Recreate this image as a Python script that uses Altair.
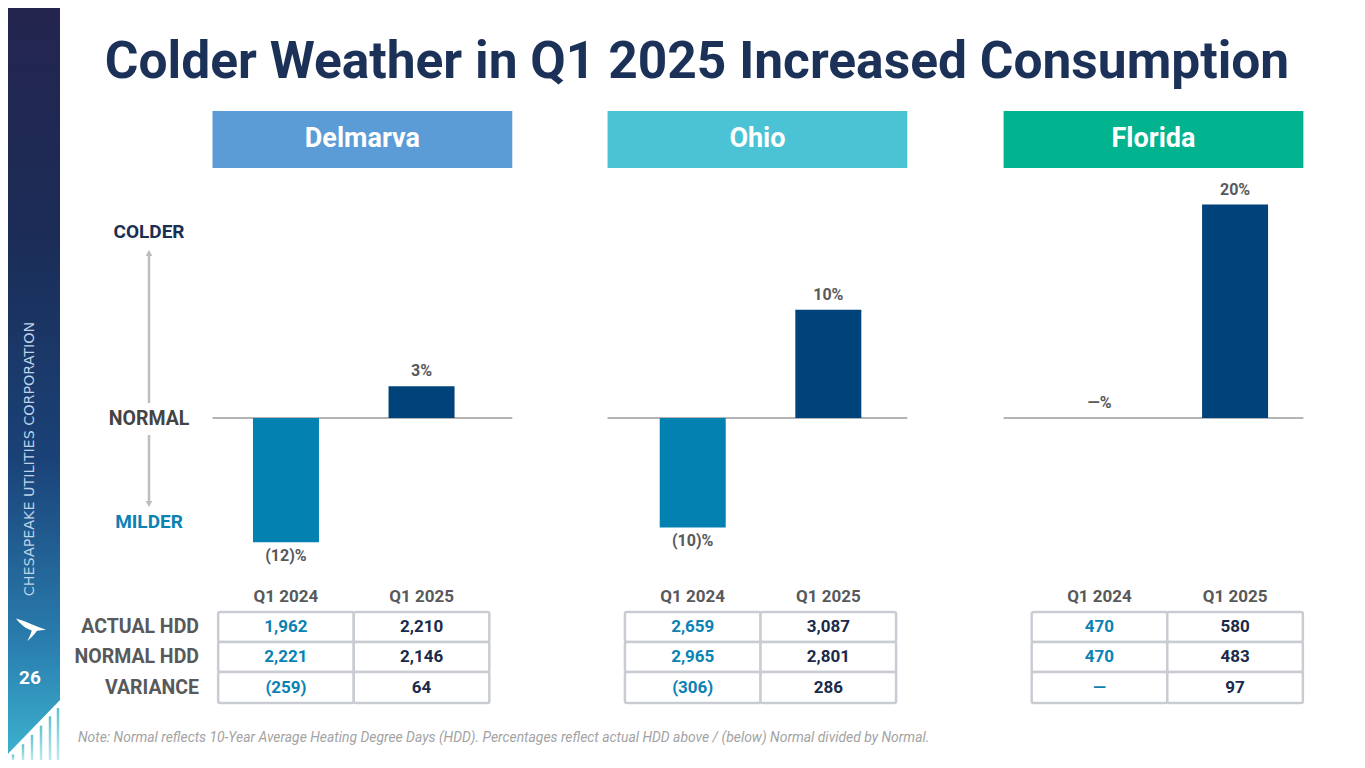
import altair as alt
import pandas as pd

# ---------------- data ----------------
regions = ["Delmarva", "Ohio", "Florida"]
periods = ["Q1 2024", "Q1 2025"]
header_colors = ["#5b9bd6", "#4bc3d4", "#02b38f"]
pct_q1_2024 = [-11.7, -10.3, 0.0]
pct_q1_2025 = [3.0, 10.2, 20.1]
pct_label_q1_2024 = ["(12)%", "(10)%", "—%"]
pct_label_q1_2025 = ["3%", "10%", "20%"]
actual_hdd_2024 = [1962, 2659, 470]
actual_hdd_2025 = [2210, 3087, 580]
normal_hdd_2024 = [2221, 2965, 470]
normal_hdd_2025 = [2146, 2801, 483]
variance_2024 = [-259, -306, 0]
variance_2025 = [64, 286, 97]
row_labels = ["ACTUAL HDD", "NORMAL HDD", "VARIANCE"]
title = "Colder Weather in Q1 2025 Increased Consumption"
note = ("Note: Normal reflects 10-Year Average Heating Degree Days (HDD). "
        "Percentages reflect actual HDD above / (below) Normal divided by Normal.")
side_text = "CHESAPEAKE UTILITIES CORPORATION"
page_no = "26"

# ---------------- layout ----------------
W, H = 1349, 752
SLOT0, SLOT_PX = 275, 136.6
ZERO_Y, PX_PER_PCT = 410, 10.62
xs = alt.Scale(domain=[-SLOT0 / SLOT_PX, (W - SLOT0) / SLOT_PX], range=[0, W], nice=False, zero=False)
ys = alt.Scale(domain=[-(H - ZERO_Y) / PX_PER_PCT, ZERO_Y / PX_PER_PCT], range=[H, 0], nice=False, zero=False)

def px2slot(page_x):
    return (page_x - 8 - SLOT0) / SLOT_PX

BOX_LEFT = [209, 607, 1006]
BOX_W = 302
C24, C25 = "#0a82b4", "#1b2a4a"
BAR24, BAR25 = "#0381b1", "#00437a"
GRAY = "#58595b"
FONT = "Roboto"

def fmt(v):
    if v < 0:
        return f"({abs(v):,})"
    if v == 0:
        return "—"
    return f"{v:,}"

bars_rows, cell_rows, head_rows = [], [], []
for i, reg in enumerate(regions):
    pcts = [pct_q1_2024[i], pct_q1_2025[i]]
    labs = [pct_label_q1_2024[i], pct_label_q1_2025[i]]
    vals = [[actual_hdd_2024[i], normal_hdd_2024[i], variance_2024[i]],
            [actual_hdd_2025[i], normal_hdd_2025[i], variance_2025[i]]]
    for j, per in enumerate(periods):
        slot = 3 * i + j
        bars_rows.append(dict(region=reg, period=per, slot=slot, pct=pcts[j], label=labs[j], zero=0,
                              color=BAR24 if j == 0 else BAR25))
        for r in range(3):
            cell_rows.append(dict(region=reg, period=per, row=r, slot=slot, x_lo=slot - 0.5, x_hi=slot + 0.5,
                                  text=fmt(vals[j][r]), color=C24 if j == 0 else C25))
    head_rows.append(dict(region=reg, color=header_colors[i], zero=0,
                          x_lo=px2slot(BOX_LEFT[i]), x_hi=px2slot(BOX_LEFT[i] + BOX_W),
                          x_mid=px2slot(BOX_LEFT[i] + BOX_W / 2)))

bars = pd.DataFrame(bars_rows)
cells = pd.DataFrame(cell_rows)
heads = pd.DataFrame(head_rows)
one = pd.DataFrame({"a": [0]})

def X(f):
    return alt.X(f, scale=xs, axis=None)

def Y(f):
    return alt.Y(f, scale=ys, axis=None)

layers = []

# ---------------- sidebar ----------------
grad = alt.LinearGradient(
    gradient="linear",
    stops=[alt.GradientStop(color="#24254f", offset=0),
           alt.GradientStop(color="#1b2c56", offset=0.3),
           alt.GradientStop(color="#1a4278", offset=0.6),
           alt.GradientStop(color="#2a7fb0", offset=0.85),
           alt.GradientStop(color="#3db4cf", offset=1)],
    x1=0, x2=0, y1=0, y2=1)
layers.append(alt.Chart(one).mark_rect(color=grad).encode(
    x=alt.value(0), x2=alt.value(52), y=alt.value(0), y2=alt.value(H)))
cut = "M1,-1.154 L1,1.6 L-1,1.6 L-1,0.91 Z"
layers.append(alt.Chart(one).mark_point(shape=cut, filled=True, size=2704, color="white", opacity=1).encode(
    x=alt.value(26), y=alt.value(722)))
stripe_x = [13, 23, 32, 41, 50, 58]
stripes = pd.DataFrame({"sx": [x - 8 for x in stripe_x],
                        "sy": [700 + (60 - x) * 1.033 + 6 - 8 for x in stripe_x]})
stripe_grad = alt.LinearGradient(
    gradient="linear",
    stops=[alt.GradientStop(color="#5fc2d2", offset=0), alt.GradientStop(color="#bfe9ef", offset=1)],
    x1=0, x2=0, y1=0, y2=1)
layers.append(alt.Chart(stripes).mark_rect(color=stripe_grad, width=2.5).encode(
    x=alt.X("sx:Q", scale=None), y=alt.Y("sy:Q", scale=None), y2=alt.value(H)))
layers.append(alt.Chart(one).mark_text(text=side_text, angle=270, font="DejaVu Sans", fontSize=14.3,
                                       color="#bcd3e8", align="center", baseline="middle").encode(
    x=alt.value(22), y=alt.value(451)))
bird = ("M-1,-0.7 C-0.3,-0.5 0.4,-0.15 1,0.05 L0.4,0.12 C0.2,0.4 0,0.6 -0.25,0.8 "
        "C-0.1,0.5 0,0.3 0.05,0.1 C-0.3,0 -0.7,-0.3 -1,-0.7 Z")
layers.append(alt.Chart(one).mark_point(shape=bird, filled=True, size=900, color="white", opacity=1).encode(
    x=alt.value(23), y=alt.value(621)))
layers.append(alt.Chart(one).mark_text(text=page_no, font=FONT, fontWeight="bold", fontSize=19,
                                       color="white", align="center", baseline="middle").encode(
    x=alt.value(22), y=alt.value(670)))

# ---------------- title ----------------
layers.append(alt.Chart(one).mark_text(text=title, font=FONT, fontWeight="bold", fontSize=51.5,
                                       color="#1b3158", align="center", baseline="alphabetic").encode(
    x=alt.value(689), y=alt.value(70)))

# ---------------- headers ----------------
layers.append(alt.Chart(heads).mark_rect().encode(
    x=X("x_lo:Q"), x2="x_hi:Q", y=alt.value(103), y2=alt.value(160),
    color=alt.Color("color:N", scale=None)))
layers.append(alt.Chart(heads).mark_text(font=FONT, fontWeight="bold", fontSize=27, color="white",
                                         align="center", baseline="middle").encode(
    x=X("x_mid:Q"), y=alt.value(131), text="region:N"))

# ---------------- zero lines ----------------
layers.append(alt.Chart(heads).mark_rule(color="#6b6b6b", strokeWidth=1.2).encode(
    x=X("x_lo:Q"), x2="x_hi:Q", y=Y("zero:Q")))

# ---------------- bars ----------------
layers.append(alt.Chart(bars).mark_bar(size=66).encode(
    x=X("slot:Q"), y=Y("pct:Q"), y2="zero:Q", color=alt.Color("color:N", scale=None)))
layers.append(alt.Chart(bars).transform_filter(alt.datum.pct >= 0).mark_text(
    font=FONT, fontWeight="bold", fontSize=16, color=GRAY, align="center", baseline="alphabetic", dy=-10).encode(
    x=X("slot:Q"), y=Y("pct:Q"), text="label:N"))
layers.append(alt.Chart(bars).transform_filter(alt.datum.pct < 0).mark_text(
    font=FONT, fontWeight="bold", fontSize=16, color=GRAY, align="center", baseline="alphabetic", dy=19).encode(
    x=X("slot:Q"), y=Y("pct:Q"), text="label:N"))

# ---------------- colder / normal / milder ----------------
layers.append(alt.Chart(one).mark_text(text="COLDER", font=FONT, fontWeight="bold", fontSize=19,
                                       color="#1b2f52", align="center", baseline="middle").encode(
    x=alt.value(141), y=alt.value(224)))
layers.append(alt.Chart(one).mark_text(text="NORMAL", font=FONT, fontWeight="bold", fontSize=19.5,
                                       color="#444444", align="center", baseline="middle").encode(
    x=alt.value(141), y=alt.value(411)))
layers.append(alt.Chart(one).mark_text(text="MILDER", font=FONT, fontWeight="bold", fontSize=19,
                                       color=C24, align="center", baseline="middle").encode(
    x=alt.value(141), y=alt.value(514)))
layers.append(alt.Chart(one).mark_rule(color="#bdbdbd", strokeWidth=2.5).encode(
    x=alt.value(141), y=alt.value(247), y2=alt.value(395)))
layers.append(alt.Chart(one).mark_rule(color="#bdbdbd", strokeWidth=2.5).encode(
    x=alt.value(141), y=alt.value(427), y2=alt.value(494)))
layers.append(alt.Chart(one).mark_point(shape="triangle-up", filled=True, size=45, color="#bdbdbd", opacity=1).encode(
    x=alt.value(141), y=alt.value(245)))
layers.append(alt.Chart(one).mark_point(shape="triangle-down", filled=True, size=45, color="#bdbdbd", opacity=1).encode(
    x=alt.value(141), y=alt.value(496)))

# ---------------- tables ----------------
layers.append(alt.Chart(bars).mark_text(font=FONT, fontWeight="bold", fontSize=17, color=GRAY,
                                        align="center", baseline="middle").encode(
    x=X("slot:Q"), y=alt.value(589), text="period:N"))
ROW_TOP = [604, 634, 664]
ROW_BOT = [634, 664, 695]
for r in range(3):
    layers.append(alt.Chart(cells).transform_filter(alt.datum.row == r).mark_rect(
        fill="white", stroke="#c9cdd3", strokeWidth=2.5, cornerRadius=2).encode(
        x=X("x_lo:Q"), x2="x_hi:Q", y=alt.value(ROW_TOP[r]), y2=alt.value(ROW_BOT[r])))
for r in range(3):
    mid = (ROW_TOP[r] + ROW_BOT[r]) / 2
    layers.append(alt.Chart(cells).transform_filter(alt.datum.row == r).mark_text(
        font=FONT, fontWeight="bold", fontSize=17, align="center", baseline="middle").encode(
        x=X("slot:Q"), y=alt.value(mid), text="text:N", color=alt.Color("color:N", scale=None)))
    layers.append(alt.Chart(one).mark_text(text=row_labels[r], font=FONT, fontWeight="bold", fontSize=19.5,
                                           color=GRAY, align="right", baseline="middle").encode(
        x=alt.value(191), y=alt.value(mid)))

# ---------------- note ----------------
layers.append(alt.Chart(one).mark_text(text=note, font=FONT, fontStyle="italic", fontSize=13.9,
                                       color="#a3a3a3", align="left", baseline="middle").encode(
    x=alt.value(70), y=alt.value(730)))

chart = alt.layer(*layers).properties(
    width=W, height=H, padding=0, autosize=alt.AutoSizeParams(type="none"), background="white"
).configure_view(stroke=None)

chart.save("out.html", embed_options={"renderer": "svg", "actions": False})
